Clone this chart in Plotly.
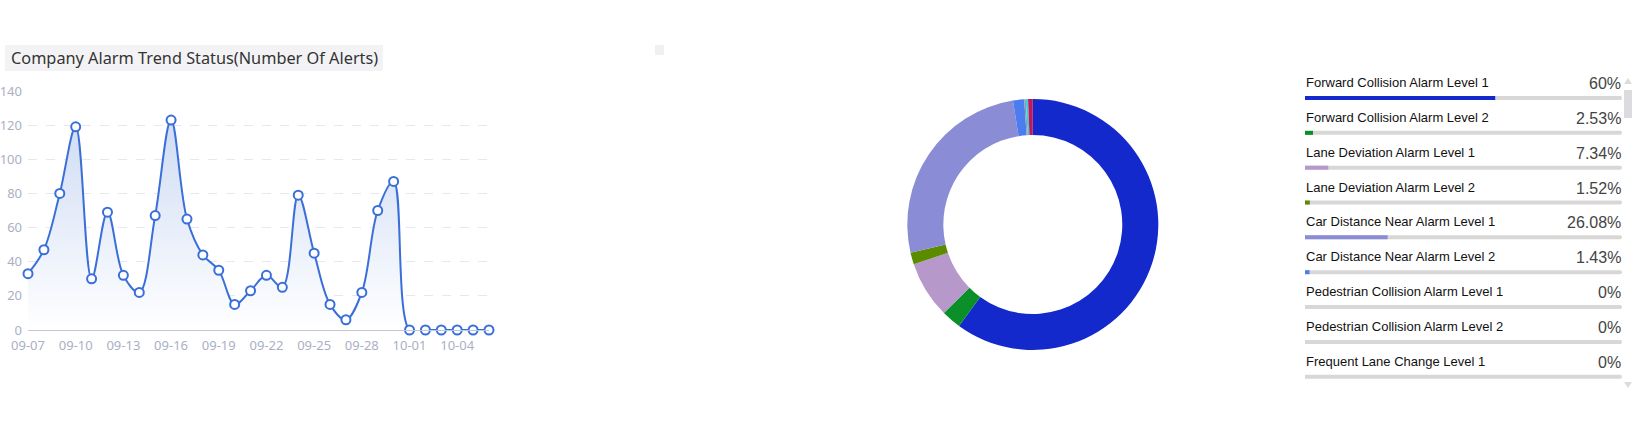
import plotly.graph_objects as go

# ---------------- data ----------------
dates = ["09-07", "09-08", "09-09", "09-10", "09-11", "09-12", "09-13", "09-14", "09-15", "09-16",
         "09-17", "09-18", "09-19", "09-20", "09-21", "09-22", "09-23", "09-24", "09-25", "09-26",
         "09-27", "09-28", "09-29", "09-30", "10-01", "10-02", "10-03", "10-04", "10-05", "10-06"]
alerts = [33, 47, 80, 119, 30, 69, 32, 22, 67, 123,
          65, 44, 35, 15, 23, 32, 25, 79, 45, 15,
          6, 22, 70, 87, 0, 0, 0, 0, 0, 0]
x_tick_labels = dates[::3]
y_tick_values = [0, 20, 40, 60, 80, 100, 120, 140]

alarm_types = ["Forward Collision Alarm Level 1", "Forward Collision Alarm Level 2",
               "Lane Deviation Alarm Level 1", "Lane Deviation Alarm Level 2",
               "Car Distance Near Alarm Level 1", "Car Distance Near Alarm Level 2",
               "Pedestrian Collision Alarm Level 1", "Pedestrian Collision Alarm Level 2",
               "Frequent Lane Change Level 1", "Other Alarm 1", "Other Alarm 2", "Other Alarm 3"]
alarm_percent = [60, 2.53, 7.34, 1.52, 26.08, 1.43, 0, 0, 0, 0.2, 0.3, 0.6]
alarm_colors = ["#1329cc", "#0b8f28", "#b698cb", "#5b8c00", "#8a8cd6", "#4b7cf0",
                "#e07b39", "#9a60b4", "#ea7ccc", "#8d9aa6", "#36d1dc", "#c2185b"]
shown_items = 9
percent_labels = ["60%", "2.53%", "7.34%", "1.52%", "26.08%", "1.43%", "0%", "0%", "0%"]

W, H = 1643, 435
def px(x):
    return x / W
def py(y):
    return 1 - y / H

fig = go.Figure()

# ---------------- line chart ----------------
fig.add_trace(go.Scatter(
    x=dates, y=alerts, mode="lines+markers",
    line=dict(color="#3a6fd9", width=2, shape="spline", smoothing=1.0),
    marker=dict(size=9, color="#ffffff", line=dict(color="#3a6fd9", width=2)),
    fill="tozeroy",
    fillgradient=dict(type="vertical", colorscale=[[0, "rgba(255,255,255,1)"], [1, "#cfdcf4"]]),
    cliponaxis=False, showlegend=False, hoverinfo="x+y",
    xaxis="x", yaxis="y",
))

# ---------------- donut ----------------
cx, cy, r = 1032.8, 224.5, 125.5
fig.add_trace(go.Pie(
    labels=alarm_types, values=alarm_percent,
    marker=dict(colors=alarm_colors, line=dict(width=0)),
    hole=0.713, sort=False, direction="clockwise", rotation=0,
    textinfo="none", showlegend=False,
    domain=dict(x=[px(cx - r), px(cx + r)], y=[py(cy + r), py(cy - r)]),
))

# ---------------- list bars ----------------
items_idx = list(range(shown_items))
fig.add_trace(go.Bar(
    x=[100] * shown_items, y=items_idx, orientation="h", width=0.115,
    marker=dict(color="#d9d6d6", line=dict(width=0)),
    xaxis="x3", yaxis="y3", showlegend=False, hoverinfo="skip",
))
fig.add_trace(go.Bar(
    x=alarm_percent[:shown_items], y=items_idx, orientation="h", width=0.115,
    marker=dict(color=alarm_colors[:shown_items], line=dict(width=0)),
    xaxis="x3", yaxis="y3", showlegend=False, hoverinfo="skip",
))

bar0, step = 98.0, 34.84
y3_range = [(H - bar0) / step, -bar0 / step]

annotations = []
for i in range(shown_items):
    annotations.append(dict(
        x=px(1304), xref="paper", y=i - 15.5 / step, yref="y3",
        text=alarm_types[i], showarrow=False, xanchor="left", yanchor="middle",
        font=dict(family="Liberation Sans, Arial", size=13, color="#111111"),
    ))
    annotations.append(dict(
        x=px(1623), xref="paper", y=i - 14.5 / step, yref="y3",
        text=percent_labels[i], showarrow=False, xanchor="right", yanchor="middle",
        font=dict(family="Liberation Sans, Arial", size=16, color="#444444"),
    ))

# title
annotations.append(dict(
    x=px(9), y=py(58), xref="paper", yref="paper", xanchor="left", yanchor="middle",
    text="Company Alarm Trend Status(Number Of Alerts)", showarrow=False,
    font=dict(family="Noto Sans", size=16.3, color="#333333"),
))

shapes = [
    dict(type="rect", xref="paper", yref="paper", x0=px(5), x1=px(383), y0=py(71), y1=py(45),
         fillcolor="#f3f3f6", line=dict(width=0), layer="below"),
    dict(type="rect", xref="paper", yref="paper", x0=px(655), x1=px(664), y0=py(55), y1=py(45),
         fillcolor="#f0f0f0", line=dict(width=0), layer="below"),
    # scrollbar thumb
    dict(type="rect", xref="paper", yref="paper", x0=px(1624), x1=px(1632), y0=py(118), y1=py(90),
         fillcolor="#dcdcdf", line=dict(width=0)),
    # scroll arrows
    dict(type="path", xref="paper", yref="paper",
         path=f"M {px(1624)} {py(84)} L {px(1632)} {py(84)} L {px(1628)} {py(78)} Z",
         fillcolor="#dcdcdf", line=dict(width=0)),
    dict(type="path", xref="paper", yref="paper",
         path=f"M {px(1624)} {py(382)} L {px(1632)} {py(382)} L {px(1628)} {py(388)} Z",
         fillcolor="#dcdcdf", line=dict(width=0)),
]

tick_font = dict(family="Noto Sans", size=13, color="#aab0c4")
fig.update_layout(
    width=W, height=H, margin=dict(l=0, r=0, t=0, b=0, autoexpand=False),
    paper_bgcolor="white", plot_bgcolor="white",
    barmode="overlay", barcornerradius=2,
    xaxis=dict(domain=[px(28), px(489)], type="category", range=[0, len(dates) - 1],
               tickvals=x_tick_labels, ticktext=x_tick_labels, showgrid=False,
               showline=True, linecolor="#c3c7d4", linewidth=1, ticks="",
               tickfont=tick_font, ticklabelstandoff=3,
               zeroline=False, fixedrange=True, automargin=False),
    yaxis=dict(domain=[py(330), py(91)], range=[0, 140], tickvals=y_tick_values,
               showgrid=True, gridcolor="#e6e8ef", griddash="dash", gridwidth=1,
               zeroline=False, showline=False, ticks="", tickfont=tick_font,
               ticklabelstandoff=5, fixedrange=True, automargin=False),
    xaxis3=dict(domain=[px(1305), px(1622)], range=[0, 100], visible=False, anchor="y3",
                fixedrange=True, automargin=False),
    yaxis3=dict(domain=[0, 1], range=y3_range, visible=False, anchor="x3", fixedrange=True,
                automargin=False),
    annotations=annotations, shapes=shapes,
)

fig.write_html("out.html", config={"displayModeBar": False},
               post_script="document.body.style.margin='0';document.body.style.overflow='hidden';")
